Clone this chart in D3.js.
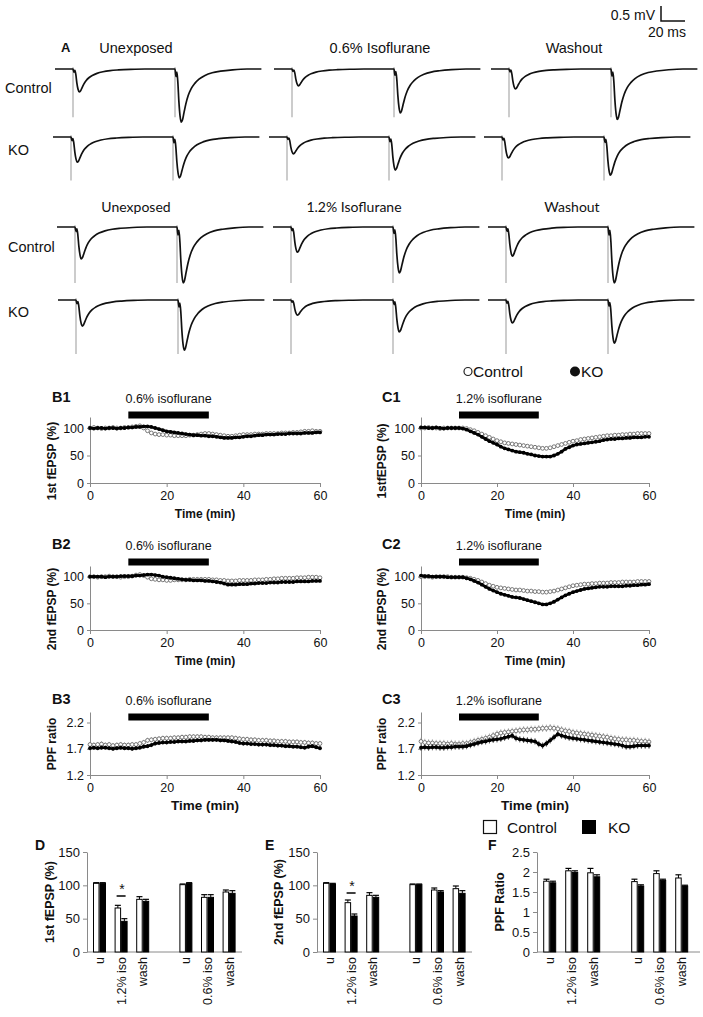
<!DOCTYPE html>
<html><head><meta charset="utf-8">
<script src="https://cdn.jsdelivr.net/npm/d3@7"></script>
<style>
body{margin:0;background:#fff}
svg{display:block}
text{font-family:"Liberation Sans",Arial,sans-serif;fill:#111}
</style>
</head><body>
<svg id="c" width="703" height="1017"></svg>
<script>
// ---------------- DATA ----------------
// Panel A: example traces (amplitudes in mV)
const traceRowLabels = ["Control", "KO", "Control", "KO"];
const traceTitlesTop = ["Unexposed", "0.6% Isoflurane", "Washout"];
const traceTitlesBottom = ["Unexposed", "1.2% Isoflurane", "Washout"];
const firstAmp  = [[0.82, 0.60, 0.71], [0.90, 0.60, 0.75], [1.14, 0.90, 1.04], [0.93, 0.54, 0.82]];
const secondAmp = [[1.90, 1.57, 1.80], [1.46, 1.18, 1.36], [2.00, 1.64, 2.00], [1.79, 1.14, 1.54]];
const artifactAmp = [1.72, 1.55, 2.0, 1.93];
const stimMs = [15, 100];
const traceLenMs = 172;
// normalised fEPSP waveform (ms after stimulus, fraction of peak)
const shapeT = [0, 0.8, 1.6, 2.4, 3.2, 4.2, 5.2, 6.2, 7.5, 9, 11, 13.5, 16.5, 20, 25, 31, 38, 48, 60];
const shapeV = [0, -0.14, -0.06, -0.26, -0.6, -0.88, -1.0, -0.96, -0.82, -0.66, -0.5, -0.37, -0.27, -0.19, -0.12, -0.07, -0.04, -0.015, 0];

// Panels B/C: time courses (1-min samples)
const timeMin = [0,1,2,3,4,5,6,7,8,9,10,11,12,13,14,15,16,17,18,19,20,21,22,23,24,25,26,27,28,29,30,
  31,32,33,34,35,36,37,38,39,40,41,42,43,44,45,46,47,48,49,50,51,52,53,54,55,56,57,58,59,60];
const timeTicks = [0, 20, 40, 60];
const isoWindow = [10, 31];

const b1Control = [100,101,100,99,100,100,101,100,100,101, 101,102,103,104,100,95,91,89,88,88,
  87,87,86,86,86,86,87,87,88,89, 90,90,89,88,87,86,85,85,86,87, 88,88,88,89,89,89,90,90,90,90,
  91,91,91,92,92,93,94,94,95,94, 94];
const b1KO = [100,99,100,100,99,100,100,99,100,100, 101,101,102,102,103,103,102,100,98,96,
  94,93,92,91,90,89,88,87,87,86, 86,85,85,84,83,82,82,82,83,83, 84,85,85,86,87,87,88,88,88,89,
  89,89,90,90,90,90,91,91,91,92, 92];
const b2Control = [100,100,99,100,100,101,100,100,99,100, 100,101,103,104,102,99,96,95,94,94,
  93,93,94,94,94,94,95,95,95,95, 95,95,94,94,93,93,92,92,92,93, 93,93,93,94,94,94,95,95,96,96,
  97,97,97,97,98,98,98,99,99,99, 98];
const b2KO = [100,100,100,100,99,100,100,100,101,101, 101,101,102,102,103,104,104,103,102,100,
  99,98,97,96,95,94,94,93,93,93, 92,92,91,90,89,87,85,85,85,86, 86,86,87,87,88,88,88,89,89,89,
  90,90,90,90,91,91,91,91,92,92, 92];
const b3Control = [1.78,1.77,1.78,1.79,1.77,1.78,1.76,1.77,1.78,1.77, 1.77,1.78,1.78,1.80,1.82,1.86,1.87,1.88,1.89,1.90,
  1.90,1.90,1.91,1.91,1.92,1.92,1.93,1.93,1.93,1.93, 1.92,1.92,1.91,1.91,1.91,1.91,1.91,1.91,1.90,1.89,
  1.88,1.88,1.87,1.87,1.86,1.86,1.86,1.85,1.85,1.84, 1.84,1.84,1.83,1.83,1.83,1.82,1.82,1.81,1.81,1.80, 1.80];
const b3KO = [1.71,1.72,1.71,1.72,1.72,1.71,1.70,1.71,1.72,1.71, 1.71,1.70,1.71,1.72,1.74,1.75,1.77,1.80,1.81,1.82,
  1.82,1.83,1.83,1.84,1.84,1.84,1.85,1.85,1.86,1.86, 1.87,1.87,1.87,1.87,1.86,1.86,1.85,1.84,1.83,1.81,
  1.80,1.80,1.79,1.79,1.78,1.78,1.78,1.77,1.77,1.76, 1.76,1.75,1.75,1.74,1.74,1.73,1.72,1.74,1.75,1.73, 1.71];
const c1Control = [100,100,101,100,100,99,100,100,100,100, 100,100,99,97,95,92,89,86,83,80,
  77,75,73,72,71,70,69,68,67,66, 65,64,63,63,64,66,68,70,72,74, 76,77,79,80,81,82,83,84,85,86,
  86,87,87,88,88,89,89,90,90,90, 90];
const c1KO = [101,101,100,100,101,100,99,100,100,100, 100,99,97,94,91,88,84,80,76,73,
  70,66,63,61,59,57,56,55,53,52, 50,49,48,48,48,50,53,57,62,65, 68,70,71,72,73,74,75,76,78,79,
  80,80,81,81,82,82,83,83,83,84, 84];
const c2Control = [100,100,100,99,100,100,100,100,99,99, 99,99,98,97,95,93,90,87,84,82,
  80,79,78,77,76,75,75,74,73,73, 72,72,71,71,72,73,75,77,79,81, 83,84,85,86,86,87,87,88,88,88,
  89,89,89,90,90,90,90,91,91,91, 91];
const c2KO = [102,101,101,100,100,100,100,99,99,99, 99,99,97,95,92,89,85,81,77,74,
  71,68,66,64,62,61,60,58,56,54, 52,50,48,48,50,53,57,61,65,68, 71,73,75,77,78,79,80,81,81,81,
  82,82,82,82,83,83,84,84,85,85, 86];
const c3Control = [1.84,1.82,1.81,1.81,1.80,1.80,1.80,1.79,1.80,1.79, 1.79,1.80,1.80,1.82,1.84,1.86,1.88,1.90,1.92,1.95,
  1.98,2.00,2.01,2.02,2.03,2.04,2.05,2.06,2.06,2.07, 2.07,2.08,2.09,2.09,2.10,2.09,2.08,2.06,2.04,2.03,
  2.01,2.00,1.99,1.98,1.97,1.96,1.95,1.94,1.93,1.92, 1.90,1.89,1.88,1.87,1.87,1.86,1.86,1.85,1.84,1.84, 1.83];
const c3KO = [1.72,1.73,1.72,1.73,1.73,1.72,1.72,1.73,1.73,1.74, 1.74,1.74,1.75,1.77,1.79,1.81,1.83,1.84,1.86,1.87,
  1.88,1.89,1.91,1.93,1.95,1.90,1.88,1.87,1.86,1.85, 1.84,1.79,1.76,1.80,1.86,1.92,1.98,1.95,1.93,1.91,
  1.90,1.89,1.88,1.87,1.86,1.85,1.84,1.83,1.82,1.81, 1.80,1.79,1.78,1.76,1.74,1.74,1.75,1.76,1.76,1.76, 1.76];
// SEM (control, KO) per panel
const semB1 = [3, 2], semB2 = [3, 2], semB3 = [0.05, 0.04];
const semC1 = [3, 2], semC2 = [3, 2], semC3 = [0.07, 0.06];

// Panels D/E/F: summary bars
const barCategories = ["u", "1.2% iso", "wash", "u", "0.6% iso", "wash"];
const dControl = [103, 66, 79, 101, 82, 90];
const dControlErr = [1, 4, 4, 1, 4, 3];
const dKO = [103, 46, 76, 103, 82, 88];
const dKOErr = [1, 4, 3, 1, 4, 4];
const eControl = [103, 74, 85, 101, 93, 95];
const eControlErr = [1, 4, 4, 1, 3, 4];
const eKO = [102, 54, 82, 101, 90, 88];
const eKOErr = [1, 3, 3, 1, 2, 4];
const fControl = [1.77, 2.03, 1.98, 1.76, 1.96, 1.85];
const fControlErr = [0.05, 0.06, 0.11, 0.06, 0.07, 0.08];
const fKO = [1.73, 1.99, 1.88, 1.65, 1.79, 1.65];
const fKOErr = [0.04, 0.04, 0.05, 0.03, 0.03, 0.02];

// ---------------- DRAW ----------------
const svg = d3.select("#c");
svg.append("rect").attr("width", 703).attr("height", 1017).attr("fill", "#fff");
const AX = "#8a8a8a";

// ---- Panel A ----
const rowBase = [69, 137, 227, 300];
const colX0 = [[55, 274, 491], [53, 269, 484], [57, 273, 488], [58, 273, 488]];
const pxPerMs = 1.2, pxPerMv = 28;
const gA = svg.append("g");

function drawTrace(x0, base, a1, a2, art) {
  const x = d3.scaleLinear().domain([0, traceLenMs]).range([x0, x0 + traceLenMs * pxPerMs]);
  const y = d3.scaleLinear().domain([0, -1]).range([base, base + pxPerMv]);
  const pts = [[0, 0]];
  [[stimMs[0], a1], [stimMs[1], a2]].forEach(([s, a]) => {
    shapeT.forEach((t, i) => pts.push([s + t, shapeV[i] * a]));
  });
  pts.push([traceLenMs, 0]);
  stimMs.forEach(s => {
    gA.append("line").attr("x1", x(s)).attr("x2", x(s))
      .attr("y1", y(0.06)).attr("y2", y(-art))
      .attr("stroke", "#aaa").attr("stroke-width", 1.2);
  });
  gA.append("path").datum(pts)
    .attr("d", d3.line().x(d => x(d[0])).y(d => y(d[1])).curve(d3.curveMonotoneX))
    .attr("fill", "none").attr("stroke", "#111").attr("stroke-width", 1.7);
}
rowBase.forEach((b, r) => {
  colX0[r].forEach((x0, c) => drawTrace(x0, b, firstAmp[r][c], secondAmp[r][c], artifactAmp[r]));
});
const rowLabelY = [93, 155, 252, 317];
const rowLabelX = [5, 8, 8, 8];
traceRowLabels.forEach((t, i) => {
  gA.append("text").attr("x", rowLabelX[i]).attr("y", rowLabelY[i]).attr("font-size", 14.5).text(t);
});
gA.append("text").attr("x", 61).attr("y", 52).attr("font-size", 13).attr("font-weight", "bold").text("A");
const topTitleX = [136, 380, 574];
traceTitlesTop.forEach((t, i) => {
  gA.append("text").attr("x", topTitleX[i]).attr("y", 53).attr("text-anchor", "middle").attr("font-size", 14.5).text(t);
});
const botTitleX = [136, 354, 572];
traceTitlesBottom.forEach((t, i) => {
  gA.append("text").attr("x", botTitleX[i]).attr("y", 212).attr("text-anchor", "middle")
    .attr("font-size", 14).style("font-family", "Lato, 'Open Sans', sans-serif").text(t);
});
// scale bar
gA.append("path").attr("d", "M661,6V21H685").attr("fill", "none").attr("stroke", "#111").attr("stroke-width", 1.5);
gA.append("text").attr("x", 655).attr("y", 20).attr("text-anchor", "end").attr("font-size", 14).text("0.5 mV");
gA.append("text").attr("x", 686).attr("y", 37).attr("text-anchor", "end").attr("font-size", 14).text("20 ms");

// ---- Legend (B/C) ----
svg.append("circle").attr("cx", 468).attr("cy", 371.5).attr("r", 4).attr("fill", "#fff").attr("stroke", "#222").attr("stroke-width", 1.2);
svg.append("text").attr("x", 473).attr("y", 377).attr("font-size", 15.5).text("Control");
svg.append("circle").attr("cx", 575).attr("cy", 371.5).attr("r", 5).attr("fill", "#111");
svg.append("text").attr("x", 581).attr("y", 377).attr("font-size", 15.5).text("KO");

// ---- Time course panels ----
function tsPanel(o) {
  const g = svg.append("g");
  const x = d3.scaleLinear().domain([0, 60]).range([o.x0, o.x1]);
  const y = d3.scaleLinear().domain(o.yDom).range([o.yb, o.yt]);
  const ya = g.append("g").attr("transform", `translate(${o.x0},0)`)
    .call(d3.axisLeft(y).tickValues(o.yTicks).tickSize(3).tickPadding(3).tickSizeOuter(0).tickFormat(o.fmt));
  const xa = g.append("g").attr("transform", `translate(0,${o.yb})`)
    .call(d3.axisBottom(x).tickValues(timeTicks).tickSize(4).tickPadding(4).tickSizeOuter(0));
  [ya, xa].forEach(a => {
    a.selectAll("path,line").attr("stroke", AX);
    a.selectAll("text").attr("font-size", 12.5).style("font-family", "'Liberation Sans',Arial,sans-serif").attr("fill", "#222");
  });
  // iso bar + text
  g.append("rect").attr("x", x(isoWindow[0])).attr("width", x(isoWindow[1]) - x(isoWindow[0]))
    .attr("y", o.barY - 3.5).attr("height", 7).attr("fill", "#000");
  g.append("text").attr("x", x((isoWindow[0] + isoWindow[1]) / 2)).attr("y", o.barY - 12)
    .attr("text-anchor", "middle").attr("font-size", 12.5).text(o.iso);
  g.append("text").attr("x", o.labX).attr("y", o.barY - 13).attr("font-size", 14.5).attr("font-weight", "bold").text(o.label);
  g.append("text").attr("transform", `translate(${o.ylabX},${o.ylabY}) rotate(-90)`)
    .attr("text-anchor", "middle").attr("dy", "0.35em").attr("font-size", 12).attr("font-weight", "bold").text(o.ylab);
  g.append("text").attr("x", (o.x0 + o.x1) / 2).attr("y", o.yb + 35).attr("text-anchor", "middle")
    .attr("font-size", o.tfs).attr("font-weight", "bold").text("Time (min)");
  // control: error bars + open circles
  const plot = g.append("g");
  plot.selectAll(".ec").data(o.ctrl).join("line")
    .attr("x1", (d, i) => x(timeMin[i])).attr("x2", (d, i) => x(timeMin[i]))
    .attr("y1", d => y(d - o.sem[0])).attr("y2", d => y(d + o.sem[0]))
    .attr("stroke", "#9a9a9a").attr("stroke-width", 0.8);
  plot.selectAll(".cc").data(o.ctrl).join("circle")
    .attr("cx", (d, i) => x(timeMin[i])).attr("cy", d => y(d)).attr("r", 1.9)
    .attr("fill", "#fff").attr("stroke", "#6a6a6a").attr("stroke-width", 0.9);
  // KO
  plot.selectAll(".ek").data(o.ko).join("line")
    .attr("x1", (d, i) => x(timeMin[i])).attr("x2", (d, i) => x(timeMin[i]))
    .attr("y1", d => y(d - o.sem[1])).attr("y2", d => y(d + o.sem[1]))
    .attr("stroke", "#333").attr("stroke-width", 0.8);
  plot.append("path").datum(o.ko)
    .attr("d", d3.line().x((d, i) => x(timeMin[i])).y(d => y(d)))
    .attr("fill", "none").attr("stroke", "#000").attr("stroke-width", 2.6);
  plot.selectAll(".kc").data(o.ko).join("circle")
    .attr("cx", (d, i) => x(timeMin[i])).attr("cy", d => y(d)).attr("r", 1.9).attr("fill", "#000");
}
const fmtPct = d => d, fmtPPF = d3.format(".1f");
const rowsTS = [
  {yb: 483, yt: 417, barY: 415, yDom: [0, 120], yTicks: [0, 50, 100], fmt: fmtPct, tfs: 12},
  {yb: 630, yt: 566, barY: 562, yDom: [0, 120], yTicks: [0, 50, 100], fmt: fmtPct, tfs: 12},
  {yb: 775, yt: 712, barY: 717, yDom: [1.2, 2.4], yTicks: [1.2, 1.7, 2.2], fmt: fmtPPF, tfs: 13.5}
];
const bCol = {x0: 90, x1: 320, labX: 52, ylabX: 52, iso: "0.6% isoflurane"};
const cCol = {x0: 421, x1: 649, labX: 382, ylabX: 382, iso: "1.2% isoflurane"};
tsPanel(Object.assign({}, rowsTS[0], bCol, {label: "B1", ylab: "1st fEPSP (%)", ylabY: 461, ctrl: b1Control, ko: b1KO, sem: semB1}));
tsPanel(Object.assign({}, rowsTS[1], bCol, {label: "B2", ylab: "2nd fEPSP (%)", ylabY: 609, ctrl: b2Control, ko: b2KO, sem: semB2}));
tsPanel(Object.assign({}, rowsTS[2], bCol, {label: "B3", ylab: "PPF ratio", ylabY: 744, ctrl: b3Control, ko: b3KO, sem: semB3}));
tsPanel(Object.assign({}, rowsTS[0], cCol, {label: "C1", ylab: "1stfEPSP (%)", ylabY: 461, ctrl: c1Control, ko: c1KO, sem: semC1}));
tsPanel(Object.assign({}, rowsTS[1], cCol, {label: "C2", ylab: "2nd fEPSP (%)", ylabY: 609, ctrl: c2Control, ko: c2KO, sem: semC2}));
tsPanel(Object.assign({}, rowsTS[2], cCol, {label: "C3", ylab: "PPF ratio", ylabY: 744, ctrl: c3Control, ko: c3KO, sem: semC3}));

// ---- Bar legend ----
svg.append("rect").attr("x", 483.5).attr("y", 820.5).attr("width", 13).attr("height", 13).attr("fill", "#fff").attr("stroke", "#111").attr("stroke-width", 1.2);
svg.append("text").attr("x", 507).attr("y", 833).attr("font-size", 15.5).text("Control");
svg.append("rect").attr("x", 582).attr("y", 820).attr("width", 14).attr("height", 14).attr("fill", "#000");
svg.append("text").attr("x", 608).attr("y", 833).attr("font-size", 15.5).text("KO");

// ---- Bar panels ----
const slotOf = [0, 1, 2, 4, 5, 6];
function barPanel(o) {
  const g = svg.append("g");
  const xb = d3.scaleBand().domain(d3.range(7)).range([o.x0 + 1.7, o.x0 + 1.7 + 7 * o.step]);
  const y = d3.scaleLinear().domain(o.yDom).range([952, 852]);
  const ya = g.append("g").attr("transform", `translate(${o.x0},0)`)
    .call(d3.axisLeft(y).tickValues(o.yTicks).tickSize(4).tickPadding(3).tickSizeOuter(0).tickFormat(d => String(d)));
  ya.selectAll("path,line").attr("stroke", AX);
  ya.selectAll("text").attr("font-size", 13).style("font-family", "'Liberation Sans',Arial,sans-serif").attr("fill", "#222");
  g.append("line").attr("x1", o.x0).attr("x2", o.xEnd).attr("y1", 952).attr("y2", 952).attr("stroke", AX);
  const bw = 6.5;
  const series = [{v: o.ctrl, e: o.ctrlErr, fill: "#fff", off: -bw}, {v: o.ko, e: o.koErr, fill: "#000", off: 0}];
  series.forEach(s => {
    s.v.forEach((v, i) => {
      const cx = xb(slotOf[i]) + xb.bandwidth() / 2 + s.off;
      g.append("line").attr("x1", cx + bw / 2).attr("x2", cx + bw / 2).attr("y1", y(v)).attr("y2", y(v + s.e[i]))
        .attr("stroke", "#000").attr("stroke-width", 1);
      g.append("line").attr("x1", cx + bw / 2 - 3).attr("x2", cx + bw / 2 + 3).attr("y1", y(v + s.e[i])).attr("y2", y(v + s.e[i]))
        .attr("stroke", "#000").attr("stroke-width", 1.2);
      g.append("rect").attr("x", cx + 0.5).attr("y", y(v)).attr("width", bw - 1).attr("height", 952 - y(v))
        .attr("fill", s.fill).attr("stroke", "#000").attr("stroke-width", 1);
    });
  });
  barCategories.forEach((c, i) => {
    const cx = xb(slotOf[i]) + xb.bandwidth() / 2;
    g.append("text").attr("transform", `translate(${cx + 4.5},957) rotate(-90)`)
      .attr("text-anchor", "end").attr("font-size", 12.5).text(c);
  });
  if (o.sig) {
    const cx = xb(slotOf[1]) + xb.bandwidth() / 2;
    g.append("line").attr("x1", cx - 4.5).attr("x2", cx + 4.5).attr("y1", o.sigY).attr("y2", o.sigY).attr("stroke", "#000").attr("stroke-width", 1.5);
    g.append("text").attr("x", cx + 1).attr("y", o.sigY - 2).attr("text-anchor", "middle").attr("font-size", 14).text("*");
  }
  g.append("text").attr("x", o.labX).attr("y", 850).attr("font-size", 14).attr("font-weight", "bold").text(o.label);
  g.append("text").attr("transform", `translate(${o.ylabX},902) rotate(-90)`)
    .attr("text-anchor", "middle").attr("dy", "0.35em").attr("font-size", 12.5).attr("font-weight", "bold").text(o.ylab);
}
barPanel({x0: 87, xEnd: 242, step: 21.6, yDom: [0, 150], yTicks: [0, 50, 100, 150], ctrl: dControl, ctrlErr: dControlErr, ko: dKO, koErr: dKOErr,
  label: "D", labX: 35, ylab: "1st fEPSP (%)", ylabX: 50, sig: true, sigY: 896});
barPanel({x0: 317, xEnd: 472, step: 21.6, yDom: [0, 150], yTicks: [0, 50, 100, 150], ctrl: eControl, ctrlErr: eControlErr, ko: eKO, koErr: eKOErr,
  label: "E", labX: 265, ylab: "2nd fEPSP (%)", ylabX: 279, sig: true, sigY: 893});
barPanel({x0: 537, xEnd: 700, step: 22, yDom: [0, 2.5], yTicks: [0, 0.5, 1, 1.5, 2, 2.5], ctrl: fControl, ctrlErr: fControlErr, ko: fKO, koErr: fKOErr,
  label: "F", labX: 488, ylab: "PPF Ratio", ylabX: 500, sig: false});
</script>
</body></html>
